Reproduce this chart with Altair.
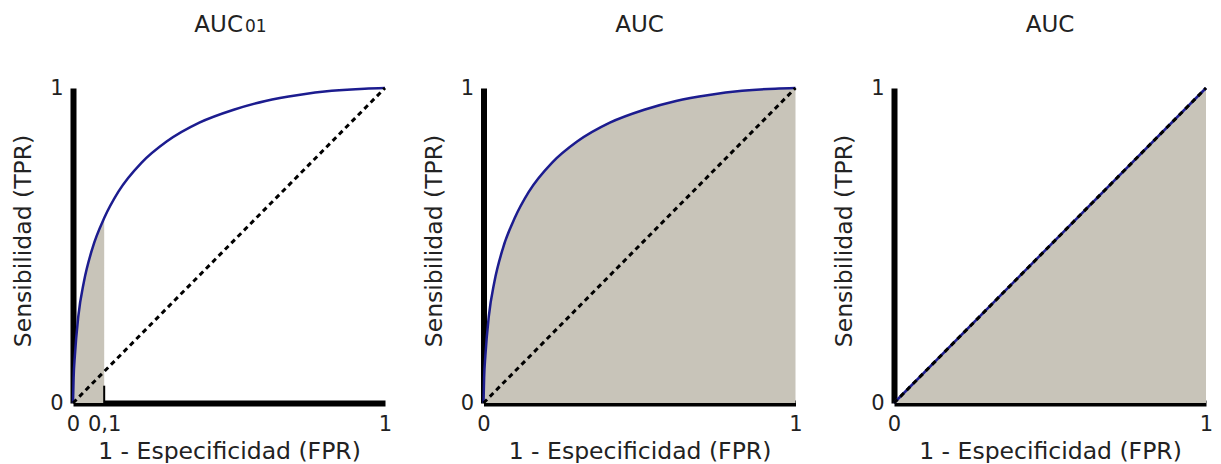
import altair as alt
import pandas as pd

# ROC curve
fpr = [0.0, 0.002, 0.006, 0.017, 0.035, 0.0625, 0.1, 0.145, 0.22, 0.30, 0.405, 0.515, 0.617, 0.723, 0.829, 0.935, 1.0]
tpr = [0.0, 0.08, 0.15, 0.275, 0.385, 0.492, 0.587, 0.67, 0.763, 0.83, 0.89, 0.931, 0.959, 0.978, 0.991, 0.998, 1.0]
# chance diagonal
diag_fpr = [0.0, 1.0]
diag_tpr = [0.0, 1.0]
# partial AUC limit and its tick mark
auc01_limit = [0.1]
tick_low = [0.0]
tick_high = [0.055]

panel_titles = ["AUC", "AUC", "AUC"]
title_sub = ["01"]
x_ticks_first = [0, 0.1, 1]
x_ticks = [0, 1]
y_ticks = [0, 1]
x_title = "1 - Especificidad (FPR)"
y_title = "Sensibilidad (TPR)"

FONT = "DejaVu Sans"
TXT = "#222222"
FILL = "#c8c4b9"
BLUE = "#1c1c8f"
W, H = 312, 315

curve = pd.DataFrame({"fpr": fpr, "tpr": tpr})
diag = pd.DataFrame({"fpr": diag_fpr, "tpr": diag_tpr})
tick_df = pd.DataFrame({"fpr": auc01_limit, "lo": tick_low, "hi": tick_high})

xs = alt.Scale(domain=[0, 1], nice=False, zero=True)
ys = alt.Scale(domain=[0, 1], nice=False, zero=True)


def enc_x(vals):
    return alt.X("fpr:Q", scale=xs,
                 axis=alt.Axis(values=vals, title=x_title, format="~g", grid=False,
                               labelExpr="replace(datum.label, '.', ',')"))


def yaxis():
    return alt.Axis(values=y_ticks, title=y_title, format="~g", grid=False, titleY=H / 2 - 5)


def enc_y():
    return alt.Y("tpr:Q", scale=ys, axis=yaxis())


def dashed(vals):
    return alt.Chart(diag).mark_line(color="black", strokeWidth=3, strokeDash=[5, 4]).encode(
        x=enc_x(vals), y=enc_y())


def title_mark(text, x, align, size=23):
    return alt.Chart(pd.DataFrame({"t": text})).mark_text(
        align=align, baseline="alphabetic", fontSize=size, font=FONT, color=TXT
    ).encode(text="t:N", x=alt.value(x), y=alt.value(-56))


# Panel 1: partial AUC up to FPR 0.1
p1_area = alt.Chart(curve).transform_filter(alt.datum.fpr <= auc01_limit[0]).mark_area(
    color=FILL, interpolate="monotone").encode(x=enc_x(x_ticks_first), y=enc_y())
p1_tick = alt.Chart(tick_df).mark_rule(color="black", strokeWidth=2).encode(
    x=enc_x(x_ticks_first), y=alt.Y("lo:Q", scale=ys, axis=yaxis()), y2="hi:Q")
p1_line = alt.Chart(curve).mark_line(color=BLUE, strokeWidth=2.5, interpolate="monotone").encode(
    x=enc_x(x_ticks_first), y=enc_y())
panel1 = alt.layer(
    p1_area, p1_tick, p1_line, dashed(x_ticks_first),
    title_mark([panel_titles[0]], W / 2 + 14, "right"),
    title_mark(title_sub, W / 2 + 16, "left", size=17),
).properties(width=W, height=H)

# Panel 2: full AUC
p2_area = alt.Chart(curve).mark_area(color=FILL, interpolate="monotone").encode(
    x=enc_x(x_ticks), y=enc_y())
p2_line = alt.Chart(curve).mark_line(color=BLUE, strokeWidth=2.5, interpolate="monotone").encode(
    x=enc_x(x_ticks), y=enc_y())
panel2 = alt.layer(p2_area, p2_line, dashed(x_ticks),
                   title_mark([panel_titles[1]], W / 2, "center")).properties(width=W, height=H)

# Panel 3: chance classifier
p3_area = alt.Chart(diag).mark_area(color=FILL).encode(x=enc_x(x_ticks), y=enc_y())
p3_line = alt.Chart(diag).mark_line(color=BLUE, strokeWidth=2.5).encode(x=enc_x(x_ticks), y=enc_y())
panel3 = alt.layer(p3_area, p3_line, dashed(x_ticks),
                   title_mark([panel_titles[2]], W / 2, "center")).properties(width=W, height=H)

chart = alt.hconcat(panel1, panel2, panel3, spacing=98.5, bounds="flush").properties(
    padding={"left": 3, "top": 6, "right": 0, "bottom": 0}
).configure(font=FONT).configure_view(strokeWidth=0, stroke="transparent").configure_axis(
    grid=False, ticks=False, tickSize=0, domainColor="black", domainWidth=6,
    labelFontSize=21, labelFlush=False, labelOverlap=False, labelColor=TXT, labelFont=FONT,
    titleFontSize=23.5, titleFontWeight="normal", titleColor=TXT, titleFont=FONT
).configure_axisX(labelPadding=10, titlePadding=5).configure_axisY(
    labelPadding=10, titlePadding=14, labelBaseline="middle")

chart.save("out.html", embed_options={"renderer": "svg", "actions": False})
